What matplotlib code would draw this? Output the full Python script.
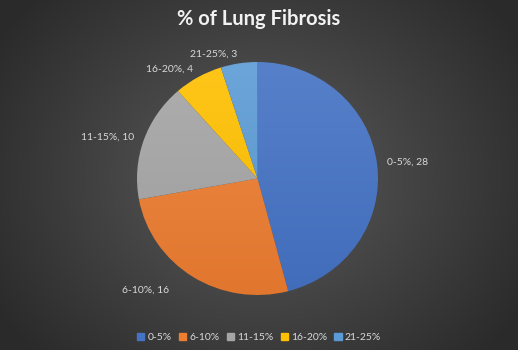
import numpy as np
import matplotlib.pyplot as plt
from matplotlib.colors import to_rgb

categories = ["0-5%", "6-10%", "11-15%", "16-20%", "21-25%"]
values = [28, 16, 10, 4, 3]
colors = ["#4472C4", "#ED7D31", "#A5A5A5", "#FFC000", "#5B9BD5"]
title = "% of Lung Fibrosis"

W, H = 518, 350
fig = plt.figure(figsize=(W / 100, H / 100), dpi=100)

# radial background
bg = fig.add_axes([0, 0, 1, 1])
yy, xx = np.mgrid[0:H, 0:W]
d = np.sqrt(((xx - W / 2) / (W * 0.6)) ** 2 + ((yy - H / 2) / (H * 0.75)) ** 2)
d = np.clip(d, 0, 1)
c0, c1 = np.array(to_rgb("#5c5c5c")), np.array(to_rgb("#2a2a2a"))
img = c0[None, None, :] * (1 - d[..., None]) + c1[None, None, :] * d[..., None]
bg.imshow(img, extent=[0, W, 0, H], aspect="auto")
bg.set_axis_off()

# pie axes sized to the pie's pixel box
left, right, top, bottom = 137, 378, 62, 295
ax = fig.add_axes([left / W, (H - bottom) / H, (right - left) / W, (bottom - top) / H])
ax.set_xlim(-1, 1)
ax.set_ylim(-1, 1)
ax.set_axis_off()

wedges, _ = ax.pie(values, colors=colors, startangle=90, counterclock=False,
                   radius=1, wedgeprops=dict(linewidth=0))

# soft vertical gradient inside each slice
for w, col in zip(wedges, colors):
    base = np.array(to_rgb(col))
    light = base + (1 - base) * 0.1
    dark = base * 0.95
    t = np.linspace(0, 1, 200)[:, None]
    grad = light[None, :] * (1 - t) + dark[None, :] * t
    im = ax.imshow(np.repeat(grad[:, None, :], 2, axis=1), extent=[-1, 1, -1, 1],
                   aspect="auto", zorder=w.get_zorder())
    im.set_clip_path(w)
    w.set_alpha(0)

ax.set_xlim(-1, 1)
ax.set_ylim(-1, 1)

# outside-end data labels
total = sum(values)
cum = 0
for name, v in zip(categories, values):
    mid = (cum + v / 2) / total
    cum += v
    ang = np.pi / 2 - 2 * np.pi * mid
    x, y = np.cos(ang) * 1.08, np.sin(ang) * 1.08
    ha = "left" if x > 0 else "right"
    if name == "6-10%":
        x -= 0.15
        y -= 0.05
    ax.text(x, y, f"{name}, {v}", ha=ha, va="center", fontsize=7.5,
            color="#d9d9d9", family="Lato", clip_on=False)

fig.text(0.5, 0.945, title, ha="center", va="center", fontsize=14.5,
         fontweight="bold", color="#f2f2f2", family="Lato")

handles = [plt.Rectangle((0, 0), 1, 1, color=c) for c in colors]
fig.legend(handles, categories, loc="center", bbox_to_anchor=(0.5, 0.035),
           ncol=5, frameon=False, labelcolor="#d9d9d9",
           handlelength=0.7, handleheight=0.7, handletextpad=0.3,
           columnspacing=0.7, prop={"family": "Lato", "size": 7.5})

fig.savefig("out.png", dpi=100)
